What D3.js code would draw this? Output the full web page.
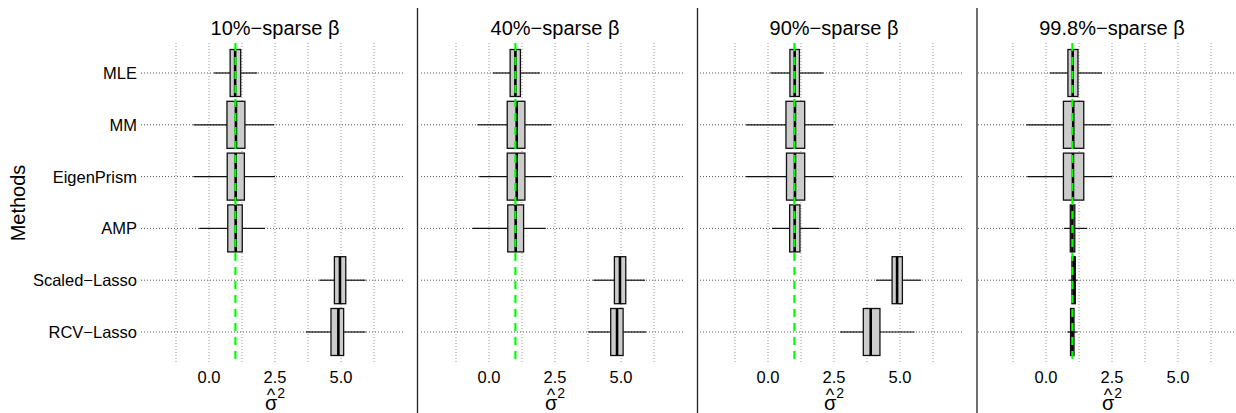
<!DOCTYPE html>
<html>
<head>
<meta charset="utf-8">
<script src="https://cdn.jsdelivr.net/npm/d3@7"></script>
<style>
  body { margin: 0; background: #fff; }
  svg { display: block; font-family: "Liberation Sans", Arial, Helvetica, sans-serif; }
</style>
</head>
<body>
<div id="chart"></div>
<script>
// methods, top to bottom
const methods = ["MLE", "MM", "EigenPrism", "AMP", "Scaled\u2212Lasso", "RCV\u2212Lasso"];
const panelTitles = ["10%\u2212sparse \u03b2", "40%\u2212sparse \u03b2", "90%\u2212sparse \u03b2", "99.8%\u2212sparse \u03b2"];
const trueSigma2 = 1;
const tickValues = [0, 2.5, 5];
const gridValues = [-1.25, 0, 1.25, 2.5, 3.75, 5, 6.25];

// [lower whisker, q1, median, q3, upper whisker] per method
const sparse10 = [
    [0.19, 0.80, 0.99, 1.20, 1.83],
    [-0.59, 0.68, 1.02, 1.36, 2.47],
    [-0.59, 0.69, 1.01, 1.34, 2.50],
    [-0.37, 0.71, 1.01, 1.26, 2.12],
    [4.18, 4.75, 4.96, 5.18, 5.93],
    [3.67, 4.62, 4.90, 5.10, 5.93]
];
const sparse40 = [
    [0.14, 0.80, 1.00, 1.19, 1.93],
    [-0.44, 0.69, 1.05, 1.36, 2.37],
    [-0.37, 0.69, 1.05, 1.36, 2.37],
    [-0.62, 0.71, 1.01, 1.31, 2.15],
    [3.95, 4.75, 4.96, 5.18, 5.91],
    [3.76, 4.61, 4.85, 5.08, 5.95]
];
const sparse90 = [
    [0.09, 0.83, 1.01, 1.19, 2.10],
    [-0.83, 0.68, 1.02, 1.39, 2.48],
    [-0.83, 0.70, 1.02, 1.39, 2.48],
    [0.15, 0.82, 1.01, 1.21, 1.95],
    [4.09, 4.70, 4.89, 5.09, 5.80],
    [2.73, 3.61, 3.89, 4.24, 5.55]
];
const sparse998 = [
    [0.14, 0.83, 1.01, 1.21, 2.12],
    [-0.75, 0.66, 1.03, 1.43, 2.45],
    [-0.71, 0.66, 1.02, 1.43, 2.51],
    [0.68, 0.92, 1.00, 1.09, 1.56],
    [0.88, 0.98, 1.05, 1.11, 1.18],
    [0.81, 0.93, 1.00, 1.06, 1.17]
];
const panels = [sparse10, sparse40, sparse90, sparse998];

const width = 1236, height = 413;
const svg = d3.select("#chart").append("svg")
    .attr("width", width)
    .attr("height", height);

const panelLeft = [141, 421, 700, 978];
const plotW = 264;
const plotTop = 43, plotBottom = 363;
const boxH = 47;

const y = d3.scalePoint().domain(methods).range([73, 332]);

// separators between panels
[417.5, 697.5, 977].forEach(x => {
    svg.append("line")
        .attr("x1", x).attr("x2", x)
        .attr("y1", 8).attr("y2", height)
        .style("stroke", "#222")
        .style("stroke-width", 1.3);
});

// y axis title and labels (first panel only)
svg.append("text")
    .attr("transform", "translate(25," + 203 + ") rotate(-90)")
    .attr("text-anchor", "middle")
    .style("font-size", "20px")
    .text("Methods");

svg.selectAll(".ylab").data(methods).enter().append("text")
    .attr("x", 137)
    .attr("y", d => y(d) + 6)
    .attr("text-anchor", "end")
    .style("font-size", "16.5px")
    .text(d => d);

panels.forEach((stats, p) => {
    const x = d3.scaleLinear().domain([-2.576, 7.424]).range([panelLeft[p], panelLeft[p] + plotW]);
    const g = svg.append("g");

    // vertical grid
    g.selectAll(".vg").data(gridValues).enter().append("line")
        .attr("x1", d => x(d)).attr("x2", d => x(d))
        .attr("y1", plotTop).attr("y2", plotBottom)
        .style("stroke", "#999")
        .style("stroke-dasharray", "1,2");

    // horizontal grid
    g.selectAll(".hg").data(methods).enter().append("line")
        .attr("x1", x.range()[0]).attr("x2", x.range()[1])
        .attr("y1", d => y(d)).attr("y2", d => y(d))
        .style("stroke", "#555")
        .style("stroke-dasharray", "1,2");

    // whiskers, boxes, medians
    stats.forEach((s, i) => {
        const cy = y(methods[i]);
        g.append("line")
            .attr("x1", x(s[0])).attr("x2", x(s[1]))
            .attr("y1", cy).attr("y2", cy)
            .style("stroke", "#111").style("stroke-width", 1.2);
        g.append("line")
            .attr("x1", x(s[3])).attr("x2", x(s[4]))
            .attr("y1", cy).attr("y2", cy)
            .style("stroke", "#111").style("stroke-width", 1.2);
        g.append("rect")
            .attr("x", x(s[1]))
            .attr("y", cy - boxH / 2)
            .attr("width", x(s[3]) - x(s[1]))
            .attr("height", boxH)
            .style("fill", "#cccccc")
            .style("stroke", "#111")
            .style("stroke-width", 1.3);
        g.append("line")
            .attr("x1", x(s[2])).attr("x2", x(s[2]))
            .attr("y1", cy - boxH / 2).attr("y2", cy + boxH / 2)
            .style("stroke", "#000").style("stroke-width", 2.6);
    });

    // true value
    g.append("line")
        .attr("x1", x(trueSigma2)).attr("x2", x(trueSigma2))
        .attr("y1", plotTop).attr("y2", plotBottom)
        .style("stroke", "#00ff00")
        .style("stroke-width", 2.2)
        .style("stroke-dasharray", "8,6");

    // tick labels
    g.selectAll(".tk").data(tickValues).enter().append("text")
        .attr("x", d => x(d))
        .attr("y", 383)
        .attr("text-anchor", "middle")
        .style("font-size", "16.5px")
        .text(d => d.toFixed(1));

    // title
    const cx = (x.range()[0] + x.range()[1]) / 2;
    g.append("text")
        .attr("x", cx + 2)
        .attr("y", 35)
        .attr("text-anchor", "middle")
        .style("font-size", "20px")
        .text(panelTitles[p]);

    // x label: sigma hat squared, one text element
    const lab = g.append("text")
        .attr("x", cx - 8).attr("y", 410);
    lab.append("tspan").style("font-size", "20px").text("\u03c3");
    lab.append("tspan").attr("dx", -10.5).attr("dy", -9.5)
        .style("font-size", "18px").text("^");
    lab.append("tspan").attr("dx", 2).attr("dy", -2.5)
        .style("font-size", "14px").text("2");
});
</script>
</body>
</html>
